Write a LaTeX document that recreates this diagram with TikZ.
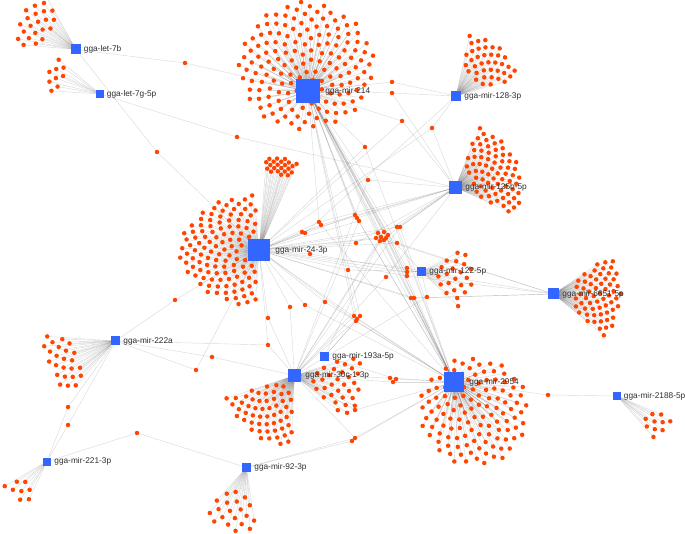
\documentclass[tikz,border=0pt]{standalone}
\usepackage{fontspec}
\setmainfont{Liberation Sans}
\usetikzlibrary{calc}
\pgfdeclarelayer{fg}
\pgfsetlayers{main,fg}
\definecolor{hubblue}{RGB}{51,102,255}
\definecolor{dotred}{RGB}{255,69,0}
\definecolor{labgray}{RGB}{45,45,45}
\tikzset{
 hub/.style={rectangle, fill=hubblue, inner sep=0pt, minimum size=#1},
 dot/.style={circle, fill=dotred, inner sep=0pt, minimum size=4.5pt},
 edge/.style={draw=black, draw opacity=0.15, line width=0.42pt},
 lab/.style={anchor=west, inner sep=0pt, text=labgray, font=\fontsize{8.3}{10}\selectfont},
}
% #1 hub, #2 prefix, #3 centre, #4 a0, #5 a1, #6 rmin, #7 rmax, #8 N, #9 yscale
\newcommand\fan[9]{%
  \foreach \k in {1,...,#8}{%
    \pgfmathsetmacro\fa{#4+(#5-#4)*mod(\k*0.618034,1)}%
    \pgfmathsetmacro\fq{(\k-0.5)/#8}%
    \pgfmathsetmacro\fr{sqrt(#6*#6+(#7*#7-#6*#6)*\fq)}%
    \coordinate (#2\k) at ($(#3)+({\fr*cos(\fa)},{\fr*sin(\fa)*#9})$);%
    \draw[edge] (#1) -- (#2\k);%
  }}
\newcommand\fandots[2]{\foreach \k in {1,...,#2}{\node[dot] (#1d\k) at (#1\k) {};}}
\newcommand\sdot[3]{%
  \coordinate (#1) at (#2);%
  \foreach \hh in {#3}{\draw[edge] (\hh) -- (#1);}}
\begin{document}
\begin{tikzpicture}[x=1pt,y=-1pt]
\useasboundingbox (0,0) rectangle (685,534);
\begin{pgfonlayer}{fg}
\node[hub=10pt] (hb7) at (76,49.5) {};
\node[hub=8pt] (hg7) at (100,94) {};
\node[hub=24pt] (h214) at (308,91) {};
\node[hub=10pt] (h128) at (456,96) {};
\node[hub=13pt] (h125) at (455.5,187.5) {};
\node[hub=22pt] (h24) at (259,250) {};
\node[hub=9pt] (h122) at (421.5,271.5) {};
\node[hub=11pt] (h6651) at (553.5,294) {};
\node[hub=9pt] (h222) at (115.5,341) {};
\node[hub=9pt] (h193) at (324.5,356.5) {};
\node[hub=13pt] (h30) at (294.5,375.5) {};
\node[hub=20pt] (h2954) at (454,382) {};
\node[hub=8pt] (h2188) at (617,396) {};
\node[hub=8pt] (h221) at (47,461.5) {};
\node[hub=9pt] (h92) at (246.5,467.5) {};
\node[lab] (lb7) at ([xshift=2.5pt]hb7.east) {gga-let-7b};
\node[lab] (lg7) at ([xshift=2.5pt]hg7.east) {gga-let-7g-5p};
\node[lab] (l214) at ([xshift=5pt]h214.east) {gga-mir-214};
\node[lab] (l128) at ([xshift=3pt]h128.east) {gga-mir-128-3p};
\node[lab] (l125) at ([xshift=3pt]h125.east) {gga-mir-125b-5p};
\node[lab] (l24) at ([xshift=5pt]h24.east) {gga-mir-24-3p};
\node[lab] (l122) at ([xshift=3pt]h122.east) {gga-mir-122-5p};
\node[lab] (l6651) at ([xshift=3pt]h6651.east) {gga-mir-6651-5p};
\node[lab] (l222) at ([xshift=3pt]h222.east) {gga-mir-222a};
\node[lab] (l193) at ([xshift=3pt]h193.east) {gga-mir-193a-5p};
\node[lab] (l30) at ([xshift=4pt]h30.east) {gga-mir-30c-1-3p};
\node[lab] (l2954) at ([xshift=5pt]h2954.east) {gga-mir-2954};
\node[lab] (l2188) at ([xshift=2.5pt]h2188.east) {gga-mir-2188-5p};
\node[lab] (l221) at ([xshift=3pt]h221.east) {gga-mir-221-3p};
\node[lab] (l92) at ([xshift=3pt]h92.east) {gga-mir-92-3p};
\end{pgfonlayer}
% fans of targets: positions and edges
\fan{hb7}{a}{hb7}{183}{242}{32}{64}{22}{1}
\fan{hg7}{b}{hg7}{180}{222}{40}{56}{9}{1}
\fan{h214}{c}{306,66}{0}{360}{0}{68}{165}{0.95}
\fan{h128}{d}{h128}{282}{345}{25}{65}{38}{1}
\fan{h125}{e}{h125}{290}{385}{18}{66}{72}{1}
\fan{h24}{f}{h24}{92}{268}{18}{80}{115}{0.7}
\fan{h24}{g}{h24}{274}{294}{78}{95}{22}{1}
\fan{h122}{i}{h122}{330}{405}{16}{52}{22}{1}
\fan{h6651}{j}{h6651}{325}{400}{22}{68}{60}{1}
\fan{h222}{k}{h222}{130}{185}{42}{72}{24}{1}
\fan{h30}{m}{h30}{92}{162}{14}{72}{55}{1}
\fan{h30}{n}{h30}{340}{400}{18}{68}{32}{1}
\fan{h2954}{o}{474,411}{0}{360}{0}{55}{120}{1}
\fan{h2188}{p}{h2188}{20}{50}{35}{60}{10}{1}
\fan{h221}{q}{h221}{112}{152}{28}{50}{8}{1}
\fan{h92}{r}{h92}{80}{135}{25}{65}{20}{1}
% shared targets
\sdot{s1}{185,63}{hb7,h214}
\sdot{s2}{157,152}{hb7,h24}
\sdot{s3}{237,137}{hg7,h125}
\sdot{s4}{392,82}{h214,h128}
\sdot{s5}{392,93}{h214,h128,h125}
\sdot{s6}{402,121}{h214,h125,h24}
\sdot{s7}{365,147}{h214,h2954,h24}
\sdot{s8}{368,180}{h214,h30,h125}
\sdot{s9}{355,215}{h214,h2954,h24}
\sdot{s10}{357,218}{h214,h2954,h125}
\sdot{s11}{359,221}{h214,h30,h24}
\sdot{s12}{319,222}{h24,h125,h214}
\sdot{s13}{321,225}{h24,h125,h2954}
\sdot{s14}{302,232}{h24,h125}
\sdot{s15}{305,233}{h24,h128}
\sdot{s16}{378,233}{h214,h2954,h24}
\sdot{s17}{381,237}{h214,h2954,h30}
\sdot{s18}{384,232}{h214,h2954,h193}
\sdot{s19}{386,238}{h214,h2954,h24}
\sdot{s20}{380,241}{h125,h30,h214}
\sdot{s21}{384,240}{h214,h2954,h6651}
\sdot{s22}{388,235}{h214,h2954,h122}
\sdot{s23}{376,238}{h125,h24,h2954}
\sdot{s24}{397,227}{h125,h24,h2954}
\sdot{s25}{400,227}{h125,h30,h2954}
\sdot{s26}{397,243}{h214,h6651,h24}
\sdot{s27}{356,243}{h24,h125}
\sdot{s28}{310,254}{h24,h6651}
\sdot{s29}{348,270}{h24,h122}
\sdot{s30}{407,268}{h24,h122,h214}
\sdot{s31}{407,272}{h24,h122,h214}
\sdot{s32}{407,276}{h24,h6651,h214}
\sdot{s33}{386,277}{h30,h125}
\sdot{s34}{411,298}{h24,h2954,h6651}
\sdot{s35}{414,298}{h24,h2954,h6651}
\sdot{s36}{427,297}{h122,h30}
\sdot{s37}{354,316}{h214,h2954,h30}
\sdot{s38}{357,319}{h214,h2954,h24}
\sdot{s39}{360,316}{h214,h193,h30}
\sdot{s40}{356,321}{h24,h2954,h193}
\sdot{s41}{175,300}{h222,h24}
\sdot{s42}{212,357}{h222,h30}
\sdot{s43}{196,370}{h222,h24}
\sdot{s44}{268,318}{h24,h30}
\sdot{s45}{290,307}{h24,h30}
\sdot{s46}{268,345}{h30,h24,h222}
\sdot{s47}{305,305}{h24,h2954}
\sdot{s48}{325,302}{h24,h2954}
\sdot{s49}{390,378}{h30,h2954}
\sdot{s50}{393,382}{h30,h2954}
\sdot{s51}{396,379}{h193,h2954}
\sdot{s52}{355,410}{h30,h2954}
\sdot{s53}{355,438}{h30,h2954,h92}
\sdot{s54}{352,441}{h92,h2954}
\sdot{s55}{548,395}{h2954,h2188}
\sdot{s56}{137,433}{h221,h92}
\sdot{s57}{68,407}{h222,h221}
\sdot{s58}{68,425}{h222,h221}
\sdot{s59}{432,128}{h128,h125,h24}
% target dots, on top of the connectors
\fandots{a}{22}\fandots{b}{9}\fandots{c}{165}\fandots{d}{38}
\fandots{e}{72}\fandots{f}{115}\fandots{g}{22}\fandots{i}{22}
\fandots{j}{60}\fandots{k}{24}\fandots{m}{55}\fandots{n}{32}
\fandots{o}{120}\fandots{p}{10}\fandots{q}{8}\fandots{r}{20}
\fandots{s}{59}
\end{tikzpicture}
\end{document}
